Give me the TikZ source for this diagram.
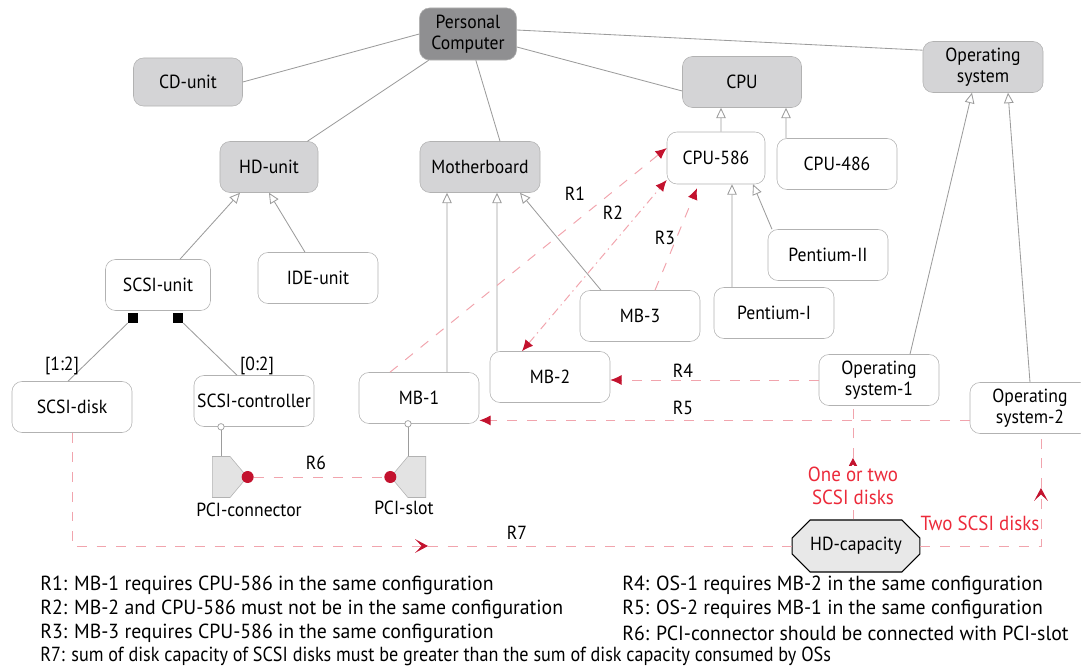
\documentclass[tikz,border=0pt]{standalone}
\usepackage{fontspec}
\setmainfont{PT Sans}[FakeStretch=0.93]
\newfontfamily\legendfont[FakeStretch=0.97]{PT Sans}
\newfontfamily\legendtight[FakeStretch=0.89]{PT Sans}
\usetikzlibrary{shapes.misc,shapes.symbols,arrows.meta,positioning}
\definecolor{edgegray}{HTML}{9C9C9C}
\definecolor{boxgray}{HTML}{B2B2B2}
\definecolor{absfill}{HTML}{D4D4D6}
\definecolor{rootfill}{HTML}{8F8F91}
\definecolor{pcifill}{HTML}{E3E3E3}
\definecolor{capfill}{HTML}{E8E8E8}
\definecolor{reqdark}{HTML}{C3122E}
\definecolor{reqpink}{HTML}{F1A4AD}
\definecolor{notered}{HTML}{EC2A3A}
\tikzset{item/.style={rectangle,rounded corners=0.25cm,draw=boxgray,fill=white,minimum width=3cm,minimum height=1.275cm,align=center,inner sep=1pt,font=\fontsize{13.5}{15}\selectfont},
  abstract/.style={item,fill=absfill},
  link/.style={draw=edgegray,line width=0.6pt},
  isa/.style={link,-{Triangle[open,length=2.6mm,width=2.4mm,fill=white]}},
  req/.style={draw=reqpink,line width=0.7pt,dash pattern=on 7pt off 7pt},
  reqtip/.style={req,-{Latex[length=2.8mm,width=2.5mm,color=reqdark,fill=reqdark]}},
  reqboth/.style={req,dash pattern=on 6pt off 3pt on 1pt off 3pt,{Latex[length=2.8mm,width=2.5mm,color=reqdark,fill=reqdark]}-{Latex[length=2.8mm,width=2.5mm,color=reqdark,fill=reqdark]}},
  reqmid/.style={req,-{Stealth[length=3.2mm,width=3.4mm,inset=1.6mm,color=reqdark,fill=reqdark]}},
  lbl/.style={font=\fontsize{13.5}{15}\selectfont,inner sep=1pt},
  note/.style={lbl,font=\fontsize{14.5}{16.5}\selectfont,text=notered,align=center},
  comp/.style={rectangle,fill=black,minimum size=0.25cm,inner sep=0pt},
  port/.style={circle,draw=edgegray,fill=white,minimum size=0.16cm,inner sep=0pt,line width=0.5pt},
  pci/.style={signal,draw=boxgray,fill=pcifill,signal pointer angle=100,minimum width=0.875cm,minimum height=1.025cm,inner sep=0pt},
  dot/.style={circle,fill=reqdark,minimum size=0.3cm,inner sep=0pt},
  legend/.style={anchor=west,inner sep=0pt,font=\legendfont\fontsize{14.5}{16}\selectfont}}

\begin{document}
\begin{tikzpicture}[x=0.025cm,y=-0.025cm]
    \useasboundingbox (0,0) rectangle (1081,669);

    % feature boxes
    \node[item,fill=rootfill,minimum width=2.425cm,minimum height=1.3cm] (pc) at (468,34) {Personal\\Computer};
    \node[abstract,minimum width=2.725cm,minimum height=1.2cm] (cd) at (188,82) {CD-unit};
    \node[abstract,minimum width=2.975cm] (cpu) at (742,82) {CPU};
    \node[abstract] (os) at (983,67) {Operating\\system};
    \node[abstract,minimum width=2.45cm] (hd) at (269,167) {HD-unit};
    \node[abstract] (mbd) at (480,167) {Motherboard};
    \node[item,minimum width=2.45cm,minimum height=1.3cm] (cpuf) at (716,158) {CPU-586};
    \node[item] (cpuv) at (837,164) {CPU-486};
    \node[item,minimum width=2.625cm] (scsi) at (158,285) {SCSI-unit};
    \node[item] (ide) at (318,278) {IDE-unit};
    \node[item] (ptwo) at (828,255) {Pentium-II};
    \node[item] (mbc) at (640,316) {MB-3};
    \node[item] (pone) at (774,313) {Pentium-I};
    \node[item] (disk) at (72,407) {SCSI-disk};
    \node[item] (ctrl) at (254,401) {SCSI-controller};
    \node[item] (mba) at (419,398) {MB-1};
    \node[item] (mbb) at (550,377) {MB-2};
    \node[item] (osa) at (879,380) {Operating\\system-1};
    \node[item] (osb) at (1030,408) {Operating\\system-2};
    \node[chamfered rectangle,chamfered rectangle xsep=0.4cm,draw=black,line width=0.8pt,fill=capfill,minimum width=3.03cm,minimum height=1.3cm,font=\fontsize{13.5}{15}\selectfont] (cap) at (856,546) {HD-capacity};

    % whole-part links
    \draw[link] (pc.west) -- (cd.east);
    \draw[link] (pc) -- (hd);
    \draw[link] (pc) -- ([xshift=0.5cm]mbd.north);
    \draw[link] (pc) -- ([yshift=-0.225cm]cpu.west);
    \draw[link] ([yshift=0.1cm]pc.east) -- ([yshift=0.42cm]os.west);

    % specialisations
    \draw[isa] ([xshift=0.55cm]scsi.north) -- ([xshift=-0.725cm]hd.south);
    \draw[isa] ([xshift=-0.325cm]ide.north) -- (hd.south);
    \draw[isa] ([xshift=0.7cm]mba.north) -- ([xshift=-0.825cm]mbd.south);
    \draw[isa] ([xshift=-1.325cm]mbb.north) -- ([xshift=0.425cm]mbd.south);
    \draw[isa] ([xshift=-0.975cm]mbc.north) -- ([xshift=1cm]mbd.south);
    \draw[isa] ([xshift=0.125cm]cpuf.north) -- ([xshift=-0.525cm]cpu.south);
    \draw[isa] ([xshift=-1.275cm]cpuv.north) -- ([xshift=1.1cm]cpu.south);
    \draw[isa] ([xshift=-1.05cm]pone.north) -- ([xshift=0.4cm]cpuf.south);
    \draw[isa] ([xshift=-1.4cm]ptwo.north) -- ([xshift=0.925cm]cpuf.south);
    \draw[isa] ([xshift=0.775cm]osa.north) -- ([xshift=-0.275cm]os.south);
    \draw[isa] (osb.north) -- ([xshift=0.625cm]os.south);

    % SCSI-unit parts
    \node[comp] (sqa) at (133,318) {};
    \node[comp] (sqb) at (178,318) {};
    \draw[link] (sqa) -- ([xshift=-0.1cm]disk.north);
    \draw[link] (sqb) -- ([xshift=-0.425cm]ctrl.north);
    \node[lbl] (cda) at (62,366) {[1:2]};
    \node[lbl] (cdb) at (257,366) {[0:2]};

    % PCI ports
    \node[pci,signal to=east,anchor=west] (conn) at (212,477) {};
    \node[pci,signal to=west,anchor=east] (slot) at (426,477) {};
    \node[port] (pta) at ([xshift=-0.825cm]ctrl.south) {};
    \node[port] (ptb) at ([xshift=-0.275cm]mba.south) {};
    \draw[link] (pta) -- (pta |- conn.north);
    \draw[link] (ptb) -- (ptb |- slot.north);
    \node[dot] (dota) at (conn.east) {};
    \node[dot] (dotb) at (slot.west) {};
    \node[lbl] (lconn) at (249,510) {PCI-connector};
    \node[lbl] (lslot) at (404,508) {PCI-slot};

    % requirements
    \draw[reqtip] ([xshift=-0.725cm]mba.north) -- ([yshift=0.25cm]cpuf.west);
    \draw[reqboth] ([xshift=-0.7cm]mbb.north) -- ([yshift=-0.55cm]cpuf.west);
    \draw[reqtip] ([xshift=0.375cm]mbc.north) -- ([xshift=-0.475cm,yshift=-0.1cm]cpuf.south);
    \draw[reqtip] (osa.west) -- (osa.west -| mbb.east);
    \coordinate (rfive) at ([yshift=-0.31cm]osb.west);
    \draw[reqtip] (rfive) -- (rfive -| mba.east);
    \draw[req] (dota) -- (dotb);
    \coordinate (rseven) at (428,546);
    \draw[reqmid] (disk.south) |- (rseven);
    \draw[req] (rseven) -- (cap.west);
    \coordinate (capa) at (853,458);
    \draw[reqmid] (capa |- cap.north) -- (capa);
    \draw[req] (capa) -- (capa |- osa.south);
    \coordinate (capb) at (1041,488);
    \draw[reqmid] (cap.east) -| (capb);
    \draw[req] (capb) -- (capb |- osb.south);

    \node[lbl] (rone) at (575,194) {R1};
    \node[lbl] (rtwo) at (613,213) {R2};
    \node[lbl] (rthree) at (665,238) {R3};
    \node[lbl] (rfour) at (683,371) {R4};
    \node[lbl] (rfivel) at (683,408) {R5};
    \node[lbl] (rsix) at (316,463) {R6};
    \node[lbl] (rsevenl) at (517,533) {R7};
    \node[note,fill=white] (nonea) at (853,486) {One or two\\SCSI disks};
    \node[note] (noneb) at (980,523) {Two SCSI disks};

    % legend
    \node[legend] (la) at (40,585) {R1: MB-1 requires CPU-586 in the same configuration};
    \node[legend] (lb) at (40,609) {R2: MB-2 and CPU-586 must not be in the same configuration};
    \node[legend] (lc) at (40,633) {R3: MB-3 requires CPU-586 in the same configuration};
    \node[legend,font=\legendtight\fontsize{14.5}{16}\selectfont] (ld) at (40,656) {R7: sum of disk capacity of SCSI disks must be greater than the sum of disk capacity consumed by OSs};
    \node[legend] (le) at (622,585) {R4: OS-1 requires MB-2 in the same configuration};
    \node[legend] (lf) at (622,609) {R5: OS-2 requires MB-1 in the same configuration};
    \node[legend] (lg) at (622,633) {R6: PCI-connector should be connected with PCI-slot};
\end{tikzpicture}
\end{document}
